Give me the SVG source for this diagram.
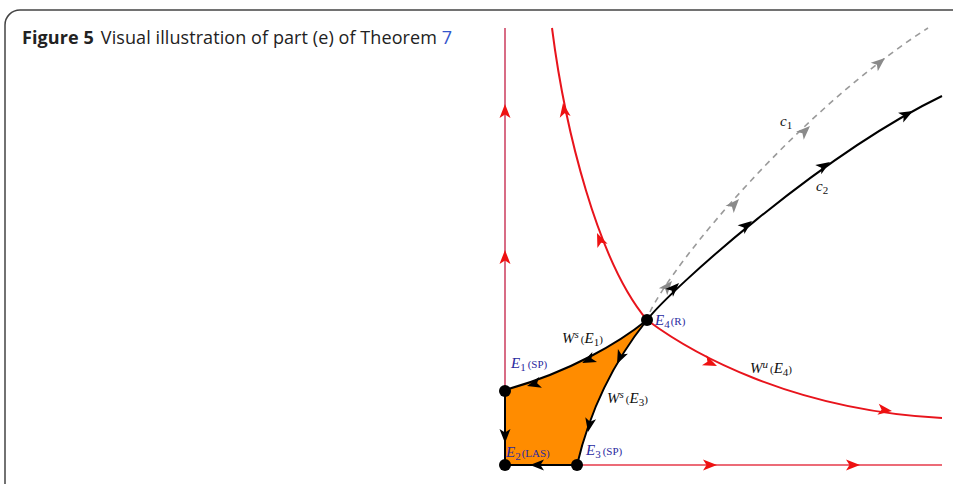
<svg xmlns="http://www.w3.org/2000/svg" xmlns:xlink="http://www.w3.org/1999/xlink" width="953" height="484" viewBox="0 0 953 484">
<style>
.title{font-family:"Open Sans","Liberation Sans",sans-serif;font-size:18px;fill:#222}
.lbl{font-family:"Liberation Serif","DejaVu Serif",serif;font-size:15px}
.blue{fill:#2a2aa0}
.blk{fill:#111}
.it{font-style:italic}
.sm{font-size:11px}
.red{fill:none;stroke:#e8141c;stroke-width:2}
.pink{fill:none;stroke:#d45c78;stroke-width:1.8}
.rline{fill:none;stroke:#e63a4a;stroke-width:1.6}
.bk{fill:none;stroke:#000;stroke-width:2}
.dash{fill:none;stroke:#9a9a9a;stroke-width:1.6;stroke-dasharray:6 5}
.ar{fill:#ee1111}
.ab{fill:#000}
.ag{fill:#8a8a8a}
.dot{fill:#000}
</style>
<defs>
<path id="ah" d="M0,0 L-14,-5.5 L-10.5,0 L-14,5.5 Z"/>
</defs>
<rect x="5" y="10" width="990" height="520" rx="15" fill="#fff" stroke="#444" stroke-width="1.5"/>
<text class="title" x="22" y="44" textLength="430"><tspan font-weight="bold">Figure 5</tspan><tspan dx="7">Visual illustration of part (e) of Theorem </tspan><tspan fill="#3355cc">7</tspan></text>

<g id="region">
<path d="M505,390 C570,372 620,342 647,320 C615,360 590,410 577,465 L505,465 Z" fill="#ff8c00"/>
</g>

<g id="connectors">
<line class="pink" x1="505" y1="28" x2="505" y2="390"/>
<line class="rline" x1="577" y1="465" x2="942" y2="465"/>
<path class="red" d="M552,28 C565,130 598,262 647,320 C690,352 790,410 942,418"/>
<path class="dash" d="M650,312 C675,260 800,110 928,28"/>
<path class="bk" d="M647,320 C670,290 820,155 942,96"/>
<path class="bk" d="M647,320 C620,342 570,372 505,390"/>
<path class="bk" d="M647,320 C615,360 590,410 577,465"/>
<line class="bk" x1="505" y1="390" x2="505" y2="465"/>
<line class="bk" x1="505" y1="465" x2="577" y2="465"/>

<use href="#ah" class="ar" transform="translate(505,104) rotate(-90)"/>
<use href="#ah" class="ar" transform="translate(505,250) rotate(-90)"/>
<use href="#ah" class="ar" transform="translate(563,103) rotate(-99)"/>
<use href="#ah" class="ar" transform="translate(597,233) rotate(-113)"/>
<use href="#ah" class="ar" transform="translate(717,366) rotate(24)"/>
<use href="#ah" class="ar" transform="translate(892,411) rotate(7)"/>
<use href="#ah" class="ar" transform="translate(717,465)"/>
<use href="#ah" class="ar" transform="translate(860,465)"/>

<use href="#ah" class="ag" transform="translate(672,281) rotate(-50)"/>
<use href="#ah" class="ag" transform="translate(739,199) rotate(-48)"/>
<use href="#ah" class="ag" transform="translate(810,126) rotate(-44)"/>
<use href="#ah" class="ag" transform="translate(885,58) rotate(-40)"/>

<use href="#ah" class="ab" transform="translate(679,283) rotate(-45)"/>
<use href="#ah" class="ab" transform="translate(752,221) rotate(-38)"/>
<use href="#ah" class="ab" transform="translate(830,162) rotate(-33)"/>
<use href="#ah" class="ab" transform="translate(913,111) rotate(-28)"/>

<use href="#ah" class="ab" transform="translate(582,363) rotate(155)"/>
<use href="#ah" class="ab" transform="translate(527,386) rotate(165)"/>
<use href="#ah" class="ab" transform="translate(617,364) rotate(115)"/>
<use href="#ah" class="ab" transform="translate(588,432) rotate(101)"/>
<use href="#ah" class="ab" transform="translate(505,443) rotate(90)"/>
<use href="#ah" class="ab" transform="translate(530,465) rotate(180)"/>
</g>

<g id="E1"><circle class="dot" cx="505" cy="391" r="6"/>
<text class="lbl blue" x="511" y="368"><tspan class="it">E</tspan><tspan class="sm" dy="3">1</tspan><tspan class="sm" dy="-3" dx="2">(SP)</tspan></text></g>
<g id="E2"><circle class="dot" cx="505" cy="465" r="6"/>
<text class="lbl blue" x="506" y="457"><tspan class="it">E</tspan><tspan class="sm" dy="3">2</tspan><tspan class="sm" dy="-3" dx="1">(LAS)</tspan></text></g>
<g id="E3"><circle class="dot" cx="577" cy="465" r="6"/>
<text class="lbl blue" x="586" y="455"><tspan class="it">E</tspan><tspan class="sm" dy="3">3</tspan><tspan class="sm" dy="-3" dx="2">(SP)</tspan></text></g>
<g id="E4"><circle class="dot" cx="647" cy="320" r="6"/>
<text class="lbl blue" x="655" y="325"><tspan class="it">E</tspan><tspan class="sm" dy="3">4</tspan><tspan class="sm" dy="-3" dx="1">(R)</tspan></text></g>

<g id="labels">
<text class="lbl blk" x="562" y="343"><tspan class="it">W</tspan><tspan class="sm it" dy="-5">s</tspan><tspan class="sm" dy="5" dx="2">(</tspan><tspan class="it">E</tspan><tspan class="sm" dy="3">1</tspan><tspan class="sm" dy="-3">)</tspan></text>
<text class="lbl blk" x="607" y="403"><tspan class="it">W</tspan><tspan class="sm it" dy="-5">s</tspan><tspan class="sm" dy="5" dx="2">(</tspan><tspan class="it">E</tspan><tspan class="sm" dy="3">3</tspan><tspan class="sm" dy="-3">)</tspan></text>
<text class="lbl blk" x="750" y="373"><tspan class="it">W</tspan><tspan class="sm it" dy="-5">u</tspan><tspan class="sm" dy="5" dx="2">(</tspan><tspan class="it">E</tspan><tspan class="sm" dy="3">4</tspan><tspan class="sm" dy="-3">)</tspan></text>
<text class="lbl blk" x="780" y="126"><tspan class="it">c</tspan><tspan class="sm" dy="3">1</tspan></text>
<text class="lbl blk" x="816" y="191"><tspan class="it">c</tspan><tspan class="sm" dy="3">2</tspan></text>
</g>
</svg>
